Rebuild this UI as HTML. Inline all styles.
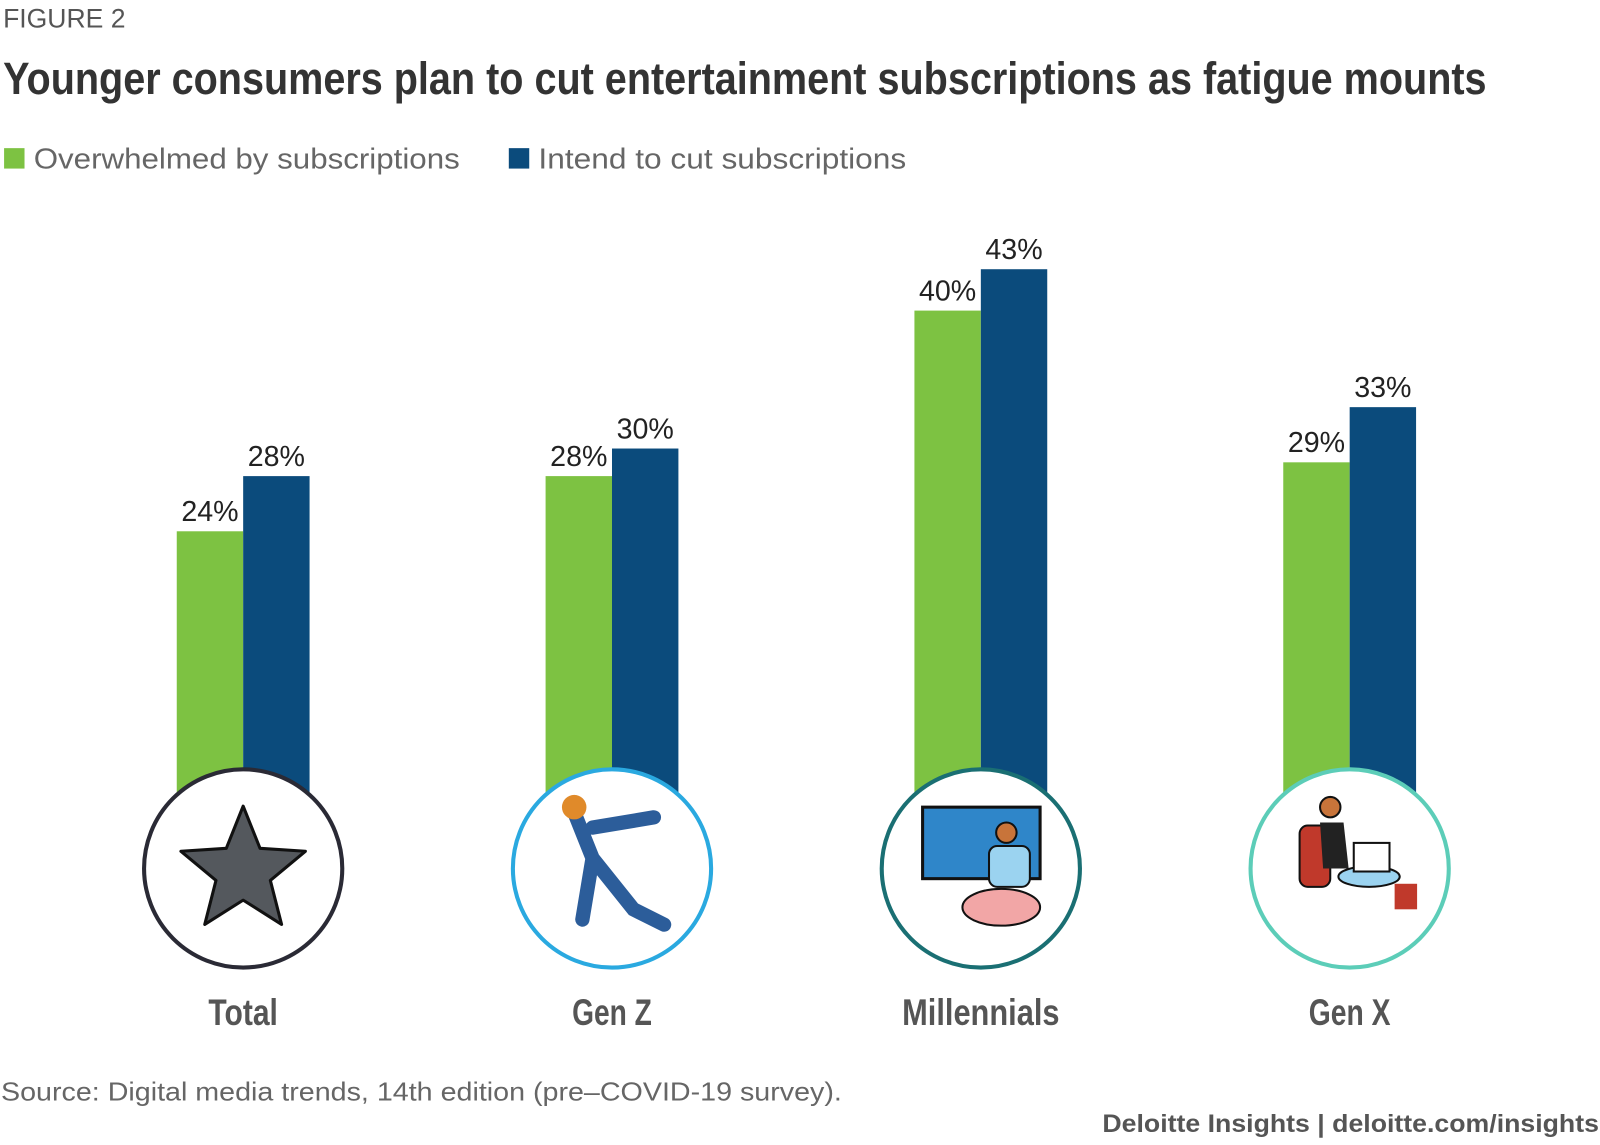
<!DOCTYPE html>
<html><head><meta charset="utf-8"><style>
html,body{margin:0;padding:0;background:#fff;}
svg{display:block;}
</style></head><body>
<svg id="chart" width="1600" height="1145" viewBox="0 0 1600 1145" xmlns="http://www.w3.org/2000/svg">
<g transform="scale(1.0217)">
<text x="3" y="27" font-family="Liberation Sans, sans-serif" font-size="26" fill="#555">FIGURE 2</text>
<text x="3" y="92" font-family="Liberation Sans Narrow, Liberation Sans, sans-serif" font-weight="bold" font-size="44" fill="#333" textLength="1452" lengthAdjust="spacingAndGlyphs">Younger consumers plan to cut entertainment subscriptions as fatigue mounts</text>
<g>
<rect x="4" y="145" width="20" height="20" fill="#7dc242"/>
<text x="33" y="165" font-family="Liberation Sans, sans-serif" font-size="28" fill="#666" textLength="417" lengthAdjust="spacingAndGlyphs">Overwhelmed by subscriptions</text>
<rect x="498" y="145" width="20" height="20" fill="#0b4b7c"/>
<text x="527" y="165" font-family="Liberation Sans, sans-serif" font-size="28" fill="#666" textLength="360" lengthAdjust="spacingAndGlyphs">Intend to cut subscriptions</text>
</g>
<g id="bars"></g>
<g id="icons"></g>
<text x="1" y="1077" font-family="Liberation Sans, sans-serif" font-size="25" fill="#666" textLength="823" lengthAdjust="spacingAndGlyphs">Source: Digital media trends, 14th edition (pre–COVID-19 survey).</text>
<text x="1565" y="1108" text-anchor="end" font-family="Liberation Sans, sans-serif" font-weight="bold" font-size="24" fill="#555" textLength="486" lengthAdjust="spacingAndGlyphs">Deloitte Insights | deloitte.com/insights</text>
</g>
</svg>
<script>
const categories = ["Total","Gen Z","Millennials","Gen X"];
const overwhelmed = [24,28,40,29];
const intendCut = [28,30,43,33];
const ringColors = ["#2a2a35","#2aa9e0","#1a6f73","#5ccdb8"];
const labelWidths = [68,78,154,80];

const NS = "http://www.w3.org/2000/svg";
const baseY = 844, pxPer = 13.5, barW = 65;
const centers = [238, 599, 960, 1321];
const y = v => baseY - v * pxPer;
const bars = document.getElementById('bars');
const icons = document.getElementById('icons');
function mk(tag, attrs, parent){const e=document.createElementNS(NS,tag);for(const k in attrs)e.setAttribute(k,attrs[k]);parent.appendChild(e);return e;}

categories.forEach((c,i)=>{
  const cx = centers[i];
  const g1 = mk('rect',{x:cx-barW,y:y(overwhelmed[i]),width:barW,height:baseY+40-y(overwhelmed[i]),fill:'#7dc242'},bars);
  
  
  const b1 = mk('rect',{x:cx,y:y(intendCut[i]),width:barW,height:baseY+40-y(intendCut[i]),fill:'#0b4b7c'},bars);
  
  
  const t1 = mk('text',{x:cx-barW/2,y:y(overwhelmed[i])-10,'text-anchor':'middle','font-family':'Liberation Sans, sans-serif','font-size':28,fill:'#222'},bars);
  t1.textContent = overwhelmed[i]+'%';
  
  
  const t2 = mk('text',{x:cx+barW/2,y:y(intendCut[i])-10,'text-anchor':'middle','font-family':'Liberation Sans, sans-serif','font-size':28,fill:'#222'},bars);
  t2.textContent = intendCut[i]+'%';
  
  
  const circ = mk('circle',{cx:cx,cy:850,r:97,fill:'#fff',stroke:ringColors[i],'stroke-width':4},icons);
  
  
  const lab = mk('text',{x:cx,y:1003,'text-anchor':'middle','font-family':'Liberation Sans Narrow, Liberation Sans, sans-serif','font-weight':'bold','font-size':36,fill:'#555',textLength:labelWidths[i],lengthAdjust:'spacingAndGlyphs'},icons);
  lab.textContent = c;
  
  
});
const pts=[];for(let k=0;k<10;k++){const a=-Math.PI/2+k*Math.PI/5;const r=k%2?28:64;pts.push((238+r*Math.cos(a)).toFixed(1)+','+(853+r*Math.sin(a)).toFixed(1));}
const star = mk('polygon',{points:pts.join(' '),fill:'#54585d',stroke:'#111','stroke-width':3,'stroke-linejoin':'round'},icons);


const gz = mk('g',{},icons);
mk('path',{d:'M560 790 L580 840 L570 900 M580 840 L620 890 L650 905 M580 810 L640 800',stroke:'#2c5d9a','stroke-width':14,fill:'none','stroke-linecap':'round'},gz);
mk('circle',{cx:562,cy:790,r:12,fill:'#e08a2a'},gz);
const ml = mk('g',{},icons);
mk('rect',{x:903,y:790,width:115,height:70,fill:'#2f86c9',stroke:'#111','stroke-width':3},ml);
mk('ellipse',{cx:980,cy:888,rx:38,ry:18,fill:'#f2a6a6',stroke:'#111','stroke-width':2},ml);
mk('circle',{cx:985,cy:815,r:10,fill:'#c8743a',stroke:'#111','stroke-width':2},ml);
mk('rect',{x:968,y:828,width:40,height:40,rx:8,fill:'#9bd3f0',stroke:'#111','stroke-width':2},ml);
const gx = mk('g',{},icons);
mk('rect',{x:1272,y:808,width:30,height:60,rx:8,fill:'#c0392b',stroke:'#111','stroke-width':2},gx);
mk('circle',{cx:1302,cy:790,r:10,fill:'#c8743a',stroke:'#111','stroke-width':2},gx);
mk('path',{d:'M1292 805 L1315 805 L1320 850 L1295 850 Z',fill:'#222'},gx);
mk('ellipse',{cx:1340,cy:858,rx:30,ry:10,fill:'#9bd3f0',stroke:'#111','stroke-width':2},gx);
mk('rect',{x:1325,y:825,width:35,height:28,fill:'#fff',stroke:'#111','stroke-width':2},gx);
mk('rect',{x:1365,y:865,width:22,height:25,fill:'#c0392b'},gx);
</script>
</body></html>
